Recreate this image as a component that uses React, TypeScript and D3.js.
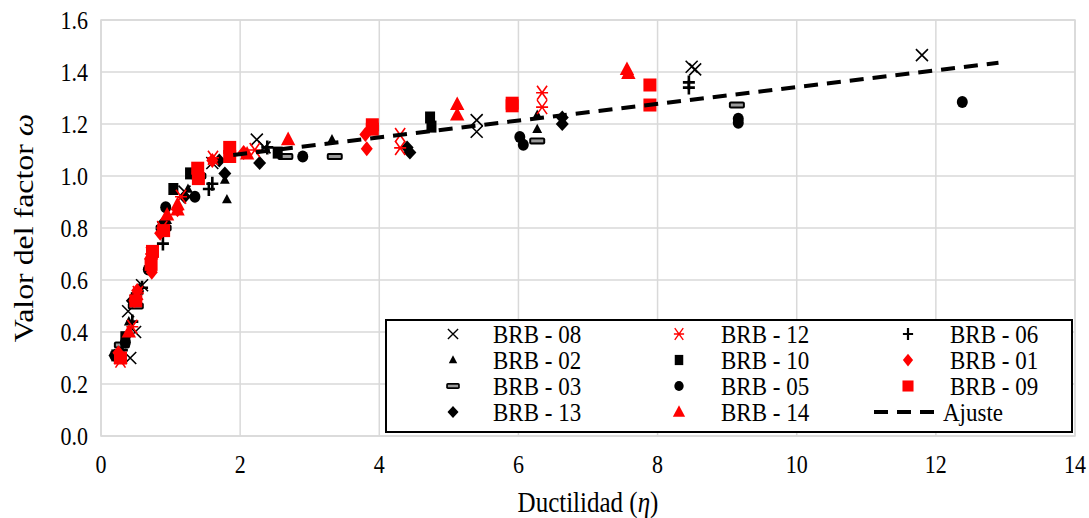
import React from "react";
import * as d3 from "d3";

type Pt = [number, number];

const brb08: Pt[] = [[0.42,0.30],[0.39,0.48],[0.49,0.40],[0.59,0.58],[0.9,0.80],[1.2,0.94],[1.6,1.05],[2.24,1.14],[2.35,1.11],[5.40,1.215],[5.40,1.17],[8.49,1.42],[8.54,1.41],[11.80,1.465]];
const brb12: Pt[] = [[0.28,0.29],[0.45,0.42],[0.53,0.55],[0.72,0.70],[0.88,0.80],[1.15,0.92],[1.61,1.07],[2.21,1.10],[4.30,1.158],[4.30,1.108],[6.34,1.32],[6.34,1.265]];
const brb06: Pt[] = [[0.3,0.33],[0.45,0.44],[0.59,0.57],[0.89,0.74],[1.6,0.97],[1.55,0.95],[2.39,1.11],[8.45,1.36],[8.45,1.34]];
const brb02: Pt[] = [[0.28,0.34],[0.40,0.44],[0.55,0.57],[0.75,0.70],[0.95,0.83],[1.25,0.95],[1.81,0.91],[1.78,0.985],[3.32,1.14],[6.27,1.235],[6.27,1.18]];
const brb10: Pt[] = [[0.22,0.31],[0.35,0.38],[0.5,0.53],[0.72,0.70],[1.04,0.95],[1.28,1.01],[2.54,1.09],[4.73,1.225],[4.75,1.19]];
const brb01: Pt[] = [[0.25,0.32],[0.48,0.52],[0.52,0.56],[0.73,0.63],[0.85,0.78],[1.1,0.87],[1.6,1.06],[2.05,1.09],[3.80,1.16],[3.82,1.105]];
const brb03: Pt[] = [[0.3,0.35],[0.5,0.5],[0.9,0.8],[1.4,1.0],[2.65,1.075],[3.36,1.075],[6.27,1.135],[9.14,1.273]];
const brb05: Pt[] = [[0.2,0.31],[0.35,0.36],[0.5,0.52],[0.68,0.64],[0.93,0.88],[1.35,0.92],[2.90,1.075],[6.02,1.15],[6.07,1.12],[9.16,1.22],[9.16,1.205],[12.38,1.285]];
const brb09: Pt[] = [[0.28,0.30],[0.5,0.52],[0.72,0.66],[0.74,0.71],[0.9,0.79],[1.39,1.03],[1.4,0.99],[1.85,1.11],[1.85,1.075],[3.90,1.197],[3.90,1.18],[5.91,1.28],[5.91,1.27],[7.89,1.35],[7.89,1.273]];
const brb13: Pt[] = [[0.2,0.31],[0.45,0.52],[0.5,0.54],[0.9,0.82],[1.2,0.92],[1.7,1.06],[1.78,1.01],[2.28,1.05],[4.40,1.11],[4.44,1.09],[6.63,1.225],[6.63,1.20]];
const brb14: Pt[] = [[0.28,0.30],[0.40,0.40],[0.72,0.70],[0.95,0.85],[1.1,0.87],[1.1,0.89],[2.1,1.085],[2.69,1.14],[5.12,1.275],[5.12,1.235],[7.56,1.41],[7.58,1.395]];

const fitX: number[] = [1.9, 12.9];
const fitA = 1.02;
const fitB = 0.0322;

const xTicks = [0, 2, 4, 6, 8, 10, 12, 14];
const yTicks = [0, 0.2, 0.4, 0.6, 0.8, 1.0, 1.2, 1.4, 1.6];

type Kind = "x" | "star" | "plus" | "tri" | "sq" | "dia" | "bar" | "circ";
interface Series { name: string; data: Pt[]; kind: Kind; color: string; }

const series: Series[] = [
  { name: "BRB - 08", data: brb08, kind: "x", color: "#000" },
  { name: "BRB - 02", data: brb02, kind: "tri", color: "#000" },
  { name: "BRB - 03", data: brb03, kind: "bar", color: "#000" },
  { name: "BRB - 13", data: brb13, kind: "dia", color: "#000" },
  { name: "BRB - 12", data: brb12, kind: "star", color: "#ff0000" },
  { name: "BRB - 10", data: brb10, kind: "sq", color: "#000" },
  { name: "BRB - 05", data: brb05, kind: "circ", color: "#000" },
  { name: "BRB - 14", data: brb14, kind: "tri", color: "#ff0000" },
  { name: "BRB - 06", data: brb06, kind: "plus", color: "#000" },
  { name: "BRB - 01", data: brb01, kind: "dia", color: "#ff0000" },
  { name: "BRB - 09", data: brb09, kind: "sq", color: "#ff0000" },
];

const drawOrder = ["BRB - 08","BRB - 02","BRB - 03","BRB - 13","BRB - 10","BRB - 05","BRB - 06","BRB - 12","BRB - 14","BRB - 01","BRB - 09"];

function Marker({ kind, color, x, y, big, s = 1 }: { kind: Kind; color: string; x: number; y: number; big: boolean; s?: number }) {
  const t = `translate(${x},${y}) scale(${s})`;
  switch (kind) {
    case "x":
      return <path transform={t} d="M-6,-6L6,6M-6,6L6,-6" stroke={color} strokeWidth={1.6} fill="none" />;
    case "star":
      return <path transform={t} d="M-5,-7L5,7M-5,7L5,-7M-6,0L6,0" stroke={color} strokeWidth={1.6} fill="none" />;
    case "plus":
      return <path transform={t} d="M-6,0L6,0M0,-7L0,7" stroke={color} strokeWidth={2.6} fill="none" />;
    case "tri": {
      const r = big ? 8 : 5.5;
      return <path transform={t} d={`M0,${-r}L${r * 0.9},${r * 0.7}L${-r * 0.9},${r * 0.7}Z`} fill={color} />;
    }
    case "sq": {
      const w = big ? 13 : 10, h = big ? 13 : 12;
      return <rect transform={t} x={-w / 2} y={-h / 2} width={w} height={h} fill={color} />;
    }
    case "dia": {
      const w = big ? 6 : 6.5, h = big ? 7.5 : 7;
      return <path transform={t} d={`M0,${-h}L${w},0L0,${h}L${-w},0Z`} fill={color} />;
    }
    case "circ":
      return <ellipse transform={t} cx={0} cy={0} rx={5.5} ry={6} fill={color} />;
    case "bar":
      return (
        <g transform={t}>
          <rect x={-8} y={-3.5} width={16} height={7} rx={2} fill="#000" />
          <rect x={-6} y={-1.5} width={12} height={3} fill="#9a9a9a" />
        </g>
      );
  }
  return null;
}

const FONT = "Liberation Serif, Times New Roman, serif";

function T({ x, y, size, anchor = "start", children, rotate = 0, sy = 1.18 }: { x: number; y: number; size: number; anchor?: string; children: React.ReactNode; rotate?: number; sy?: number }) {
  const tr = rotate
    ? `translate(${x},${y}) rotate(${rotate}) scale(${sy},1)`
    : `translate(${x},${y}) scale(1,${sy})`;
  return (
    <text transform={tr} x={0} y={0} dy="0.35em" textAnchor={anchor as any} fontSize={size} fill="#000" style={{ fontFamily: FONT }}>
      {children}
    </text>
  );
}

export default function App() {
  const W = 1089, H = 518;
  const left = 101, right = 1075, top = 20, bottom = 436;
  const x = d3.scaleLinear().domain([0, 14]).range([left, right]);
  const y = d3.scaleLinear().domain([0, 1.6]).range([bottom, top]);
  const line = d3.line<number>().x((d) => x(d)).y((d) => y(fitA + fitB * d));

  const legendCols = [[453, 493], [679, 721], [908, 950]];
  const legendRows = [334, 360, 386, 412];

  const byName: Record<string, Series> = {};
  series.forEach((s) => (byName[s.name] = s));

  return (
    <svg width={W} height={H} style={{ position: "absolute", left: 0, top: 0, background: "#fff", fontFamily: FONT }}>
      <rect x={0} y={0} width={W} height={H} fill="#fff" />
      {yTicks.map((t) => (
        <line key={"gy" + t} x1={left} x2={right} y1={y(t)} y2={y(t)} stroke="#d9d9d9" strokeWidth={1.5} />
      ))}
      {xTicks.map((t) => (
        <line key={"gx" + t} x1={x(t)} x2={x(t)} y1={top} y2={bottom} stroke="#d9d9d9" strokeWidth={1.5} />
      ))}
      <rect x={left} y={top} width={right - left} height={bottom - top} fill="none" stroke="#d9d9d9" strokeWidth={1.5} />
      {yTicks.map((t) => (
        <T key={"ty" + t} x={88} y={y(t)} size={22} anchor="end">{t.toFixed(1)}</T>
      ))}
      {xTicks.map((t) => (
        <T key={"tx" + t} x={x(t)} y={464} size={22} anchor="middle">{t}</T>
      ))}
      <T x={588} y={502} size={25} anchor="middle">
        Ductilidad (<tspan fontStyle="italic">η</tspan>)
      </T>
      <T x={24} y={228} size={27} anchor="middle" rotate={-90}>
        Valor del factor <tspan fontStyle="italic">ω</tspan>
      </T>

      {drawOrder.map((n) => {
        const s = byName[n];
        return (
          <g key={n}>
            {s.data.map((p, i) => (
              <Marker key={i} kind={s.kind} color={s.color} x={x(p[0])} y={y(p[1])} big={s.color !== "#000"} />
            ))}
          </g>
        );
      })}

      <path d={line(fitX) || ""} fill="none" stroke="#000" strokeWidth={4} strokeDasharray="14,9" />

      <rect x={386} y={320} width={686} height={112} fill="#fff" stroke="#000" strokeWidth={2} />
      {series.map((s, i) => {
        const col = Math.floor(i / 4);
        const row = i % 4;
        const [mx, tx] = legendCols[col];
        const ry = legendRows[row];
        return (
          <g key={"lg" + s.name}>
            <Marker kind={s.kind} color={s.color} x={mx} y={ry} big={s.color !== "#000"} s={0.85} />
            <T x={tx} y={ry} size={23} sy={1.08}>{s.name}</T>
          </g>
        );
      })}
      <line x1={874} x2={943} y1={legendRows[3]} y2={legendRows[3]} stroke="#000" strokeWidth={4} strokeDasharray="14,9" />
      <T x={legendCols[2][1] - 7} y={legendRows[3]} size={23} sy={1.08}>Ajuste</T>
    </svg>
  );
}
